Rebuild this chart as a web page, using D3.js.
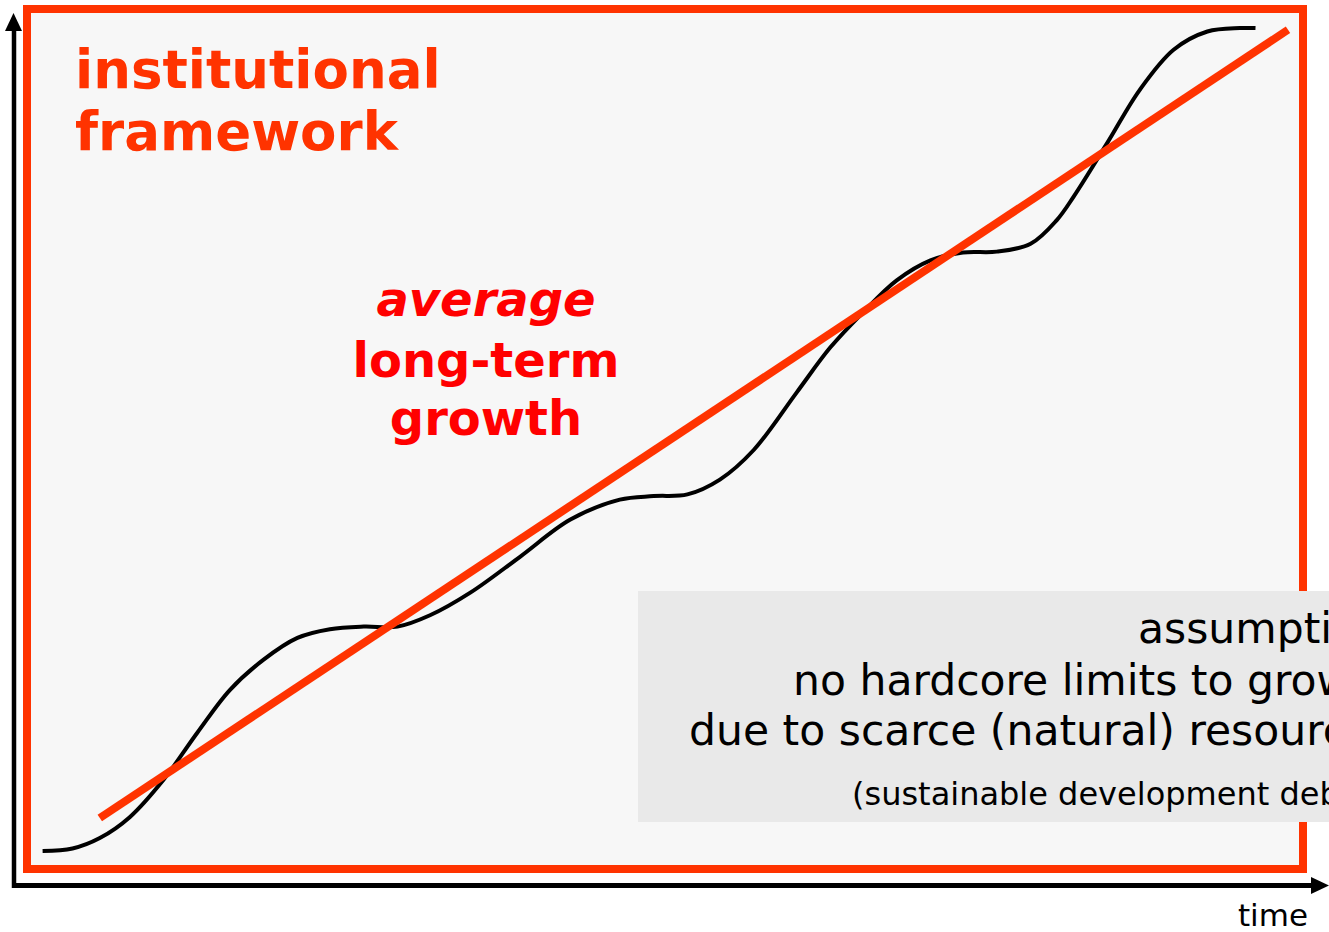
<!DOCTYPE html>
<html>
<head>
<meta charset="utf-8">
<script src="https://cdn.jsdelivr.net/npm/d3@7"></script>
<style>
  html, body { margin: 0; padding: 0; background: #ffffff; }
  svg { display: block; }
  text { font-family: "DejaVu Sans", Verdana, sans-serif; }
</style>
</head>
<body>
<script>
// ---- data ----
const timeValues   = [2.2, 4.5, 6.6, 8.9, 11.5, 14.1, 16.6, 19.2, 21.8, 24.3, 26.9, 29.5, 32.0, 35.1, 38.9, 42.8, 46.6, 49.2, 51.8, 54.3, 56.9, 60.2, 62.8, 65.3, 67.9, 70.5, 73.0, 75.6, 78.2, 80.2, 81.5, 84.1, 86.6, 89.2, 91.8, 94.3, 95.5];
const growthValues = [3.9, 4.2, 5.4, 7.8, 12.1, 17.5, 22.4, 25.9, 28.4, 29.4, 29.7, 29.7, 31.0, 33.6, 37.7, 42.0, 44.3, 44.7, 44.9, 46.6, 50.0, 56.6, 61.8, 65.8, 69.5, 71.8, 72.7, 72.8, 73.7, 76.4, 79.1, 85.3, 91.4, 96.0, 98.1, 98.5, 98.5];
const trendTime    = [6.6, 98.0];
const trendGrowth  = [7.7, 98.3];
const titleLines   = ["institutional", "framework"];
const trendLabel   = ["average", "long-term", "growth"];
const noteLines    = ["assumption:", "no hardcore limits to growth", "due to scarce (natural) resources"];
const noteSmall    = "(sustainable development debate)";
const xAxisLabel   = "time";

// ---- layout ----
const W = 1329, H = 932;
const svg = d3.select("body").append("svg").attr("width", W).attr("height", H);

const x = d3.scaleLinear().domain([0, 100]).range([14, 1314]);
const y = d3.scaleLinear().domain([0, 100]).range([885, 15]);

// frame (institutional framework)
svg.append("rect")
  .attr("x", 27).attr("y", 9).attr("width", 1276).attr("height", 860)
  .attr("fill", "#f7f7f7").attr("stroke", "#ff3300").attr("stroke-width", 8);

// axes
const ax = svg.append("g").attr("fill", "#000").attr("stroke", "#000");
ax.append("line").attr("x1", 14).attr("y1", 888).attr("x2", 14).attr("y2", 28).attr("stroke-width", 4.5);
ax.append("line").attr("x1", 12).attr("y1", 885.5).attr("x2", 1314).attr("y2", 885.5).attr("stroke-width", 5);
ax.append("path").attr("stroke", "none").attr("d", "M13.5,13 L22,31 L5,31 Z");
ax.append("path").attr("stroke", "none").attr("d", "M1329,885.5 L1311,877 L1311,894 Z");

svg.append("text").attr("x", 1308).attr("y", 926).attr("text-anchor", "end")
  .attr("font-size", 31).attr("fill", "#000").text(xAxisLabel);

// title
svg.append("g").selectAll("text").data(titleLines).join("text")
  .attr("x", 75).attr("y", (d, i) => 88 + i * 62)
  .attr("font-size", 53).attr("font-weight", "bold").attr("fill", "#ff3300")
  .text(d => d);

// trend label
svg.append("g").selectAll("text").data(trendLabel).join("text")
  .attr("x", 486).attr("y", (d, i) => [316, 377, 435][i])
  .attr("text-anchor", "middle")
  .attr("font-size", 48).attr("font-weight", "bold")
  .attr("font-style", (d, i) => i === 0 ? "italic" : "normal")
  .attr("fill", "#ff0000").text(d => d);

// growth curve
const pts = timeValues.map((t, i) => [t, growthValues[i]]);
svg.append("path")
  .attr("d", d3.line().x(d => x(d[0])).y(d => y(d[1])).curve(d3.curveCatmullRom.alpha(0.5))(pts))
  .attr("fill", "none").attr("stroke", "#000").attr("stroke-width", 4);

// trend line
const tpts = trendTime.map((t, i) => [t, trendGrowth[i]]);
svg.append("path")
  .attr("d", d3.line().x(d => x(d[0])).y(d => y(d[1]))(tpts))
  .attr("fill", "none").attr("stroke", "#ff3300").attr("stroke-width", 8);

// note box
svg.append("rect").attr("x", 638).attr("y", 591).attr("width", 700).attr("height", 231)
  .attr("fill", "#e9e9e9");
svg.append("g").selectAll("text").data(noteLines).join("text")
  .attr("x", (d, i) => [1138, 793, 689][i]).attr("y", (d, i) => [643, 695, 745][i])
  .attr("font-size", 42.5).attr("fill", "#000").text(d => d);
svg.append("text").attr("x", 852).attr("y", 805)
  .attr("font-size", 32).attr("fill", "#000").text(noteSmall);
</script>
</body>
</html>
